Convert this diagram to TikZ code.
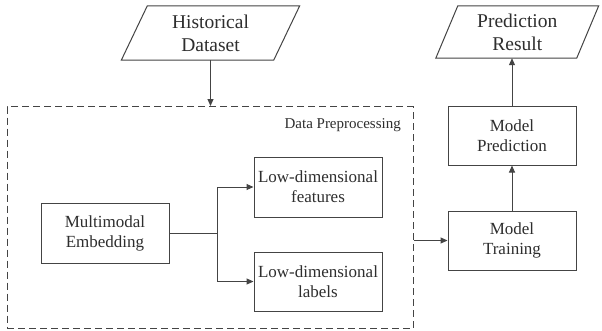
\documentclass[tikz,border=0pt]{standalone}
\usepackage{fontspec}
\setmainfont{Liberation Serif}
\usetikzlibrary{arrows.meta,calc}
\definecolor{ink}{HTML}{444444}
\definecolor{txt}{HTML}{2E2E2E}
\begin{document}
\begin{tikzpicture}[x=1pt,y=-1pt,
  line/.style={draw=ink, line width=1pt},
  arr/.style={line, -{Triangle[length=7pt,width=6pt]}},
  box/.style={draw=ink, line width=1pt, fill=white, minimum width=128pt,
    minimum height=59pt, inner sep=0pt, align=center, text=txt,
    font=\fontsize{17}{20}\selectfont},
  para/.style={inner sep=0pt, align=center, text=txt,
    font=\fontsize{19.5}{23}\selectfont},
  group/.style={draw=ink, line width=1pt, dash pattern=on 7pt off 4pt,
    inner sep=0pt}
]
\fill[white] (0,0) rectangle (602,330);
\useasboundingbox (0,0) rectangle (602,330);

% input and output data (parallelograms)
\node[para, minimum width=152pt, minimum height=54pt] (hist) at (210.5,33) {Historical\\Dataset};
\draw[line] ([xshift=-13pt]hist.south west) -- ([xshift=13pt]hist.north west)
  -- ([xshift=13pt]hist.north east) -- ([xshift=-13pt]hist.south east) -- cycle;

\node[para, minimum width=140.5pt, minimum height=52pt] (pres) at (517.25,32) {Prediction\\Result};
\draw[line] ([xshift=-11pt]pres.south west) -- ([xshift=11pt]pres.north west)
  -- ([xshift=11pt]pres.north east) -- ([xshift=-11pt]pres.south east) -- cycle;

% preprocessing group
\node[group, minimum width=406pt, minimum height=222pt] (prep) at (210,217.5) {};
\node[anchor=base east, inner sep=0pt, text=txt, font=\fontsize{15}{18}\selectfont]
  (preplabel) at (401,128) {Data Preprocessing};

\node[box, minimum height=60pt] (emb) at (105,233) {Multimodal\\Embedding};
\node[box, minimum height=60pt] (feat) at (318,187) {Low-dimensional\\features};
\node[box, minimum height=59pt] (lab) at (318,281.5) {Low-dimensional\\labels};
\coordinate (br) at (217,233);

% model stages
\node[box] (mtrain) at (512,240.5) {Model\\Training};
\node[box] (mpred) at (512,135.5) {Model\\Prediction};

% connectors
\draw[arr] (hist.south) -- (hist.south |- prep.north);
\draw[line] (emb.east) -- (br);
\draw[arr] (br) |- (feat.west);
\draw[arr] (br) |- (lab.west);
\draw[arr] (prep.east |- mtrain.west) -- (mtrain.west);
\draw[arr] (mtrain.north) -- (mpred.south);
\draw[arr] (mpred.north) -- (mpred.north |- pres.south);
\end{tikzpicture}
\end{document}
